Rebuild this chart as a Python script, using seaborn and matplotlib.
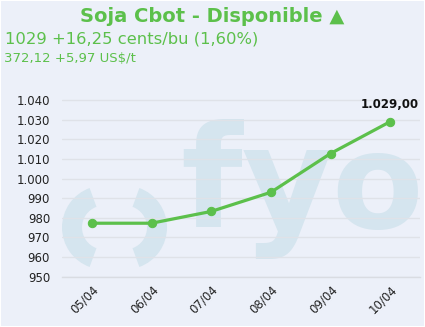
import matplotlib
matplotlib.use("Agg")
import matplotlib.pyplot as plt
import matplotlib.transforms as mtransforms
import seaborn as sns
import pandas as pd
from matplotlib.patches import Wedge, Rectangle
from matplotlib.ticker import FuncFormatter, FixedLocator

# ---- data ----
dates = ["05/04", "06/04", "07/04", "08/04", "09/04", "10/04"]
prices = [977.25, 977.25, 983.25, 993.0, 1012.75, 1029.0]
yticks = [950, 960, 970, 980, 990, 1000, 1010, 1020, 1030, 1040]
title = "Soja Cbot - Disponible \u25B2"
line2 = "1029 +16,25 cents/bu (1,60%)"
line3 = "372,12 +5,97 US$/t"
last_label = "1.029,00"

BG = "#ECF0F9"
GREEN = "#5CC04B"
WM = "#D5E5EF"
GRID = "#DFE2E8"

sns.set_theme(style="white")
plt.rcParams["font.family"] = ["DejaVu Sans"]

W, H = 425, 327
fig = plt.figure(figsize=(W / 100, H / 100), dpi=100, facecolor=BG)

# overlay axes for watermark (pixel coordinates)
ov = fig.add_axes([0, 0, 1, 1], zorder=0)
ov.set_xlim(0, W)
ov.set_ylim(H, 0)
ov.axis("off")
for c, t1, t2 in [((104, 227.5), 110, 250), ((125, 227.5), -70, 70)]:
    ov.add_patch(Wedge(c, 42, t1, t2, width=20, facecolor=WM, edgecolor="none",
                       transform=ov.transData))
ov.text(180, 228, "fy", fontsize=102, fontweight="bold", color=WM,
        ha="left", va="baseline")
ov.text(331, 228, "o", fontsize=96, fontweight="bold", color=WM,
        ha="left", va="baseline")

# main axes
left, right = 62 / W, 420 / W
bottom = (H - 276.7) / H
ax = fig.add_axes([left, bottom, right - left, 0.742 - bottom], zorder=1)
ax.set_facecolor("none")

df = pd.DataFrame({"date": dates, "price": prices})
sns.lineplot(data=df, x="date", y="price", ax=ax, color=GREEN, linewidth=2.3,
             marker="o", markersize=6, markeredgecolor=GREEN, sort=False, zorder=3)

ax.set_xlim(-0.5, len(dates) - 0.5)
ax.set_ylim(950, 1048)
ax.set_yticks(yticks)
ax.yaxis.set_major_formatter(FuncFormatter(lambda v, p: f"{int(v):,}".replace(",", ".")))
ax.grid(axis="y", color=GRID, linewidth=1)
ax.set_axisbelow(True)
ax.set_xlabel("")
ax.set_ylabel("")
for s in ["top", "right", "left"]:
    ax.spines[s].set_visible(False)
ax.spines["bottom"].set_color("#D9DCE2")
ax.spines["bottom"].set_linewidth(1)

ax.set_xticks(range(len(dates)))
ax.set_xticklabels(dates, rotation=45, ha="right", rotation_mode="anchor",
                   fontsize=8.5, color="#222222")
shift = mtransforms.ScaledTranslation(-4 / 100, 0, fig.dpi_scale_trans)
for lbl in ax.get_xticklabels():
    lbl.set_transform(lbl.get_transform() + shift)
ax.xaxis.set_minor_locator(FixedLocator([i - 0.5 for i in range(len(dates) + 1)]))
ax.tick_params(axis="x", which="major", length=0, pad=4.5)
ax.tick_params(axis="x", which="minor", length=5, color="#D9DCE2", width=1)
ax.tick_params(axis="y", length=0, labelsize=8.5, labelcolor="#222222", pad=8.6)

ax.annotate(last_label, (len(dates) - 1, prices[-1]), xytext=(0, 8),
            textcoords="offset points", ha="center", va="bottom",
            fontsize=8.5, fontweight="bold", color="#111111", annotation_clip=False)

# header texts
fig.text(212 / W, 1 - 16 / H, title, ha="center", va="center",
         fontsize=14, fontweight="bold", color=GREEN)
fig.text(5 / W, 1 - 39 / H, line2, ha="left", va="center", fontsize=11.8, color=GREEN)
fig.text(4 / W, 1 - 59 / H, line3, ha="left", va="center", fontsize=9.5, color=GREEN)

# thin white border
fig.patches.append(Rectangle((0, 0), 1, 1, transform=fig.transFigure, fill=False,
                             edgecolor="white", linewidth=1.5, zorder=10))

fig.savefig("out.png", dpi=100, facecolor=BG)
